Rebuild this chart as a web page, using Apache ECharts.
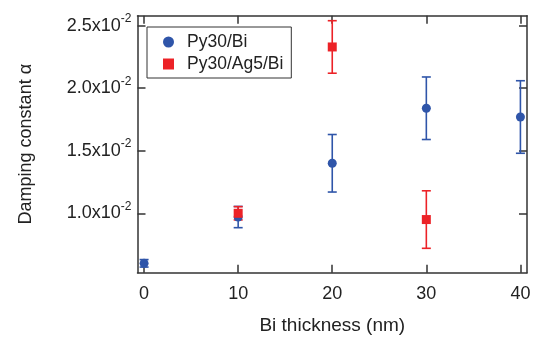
<!DOCTYPE html>
<html><head><meta charset="utf-8">
<script src="https://cdn.jsdelivr.net/npm/echarts@6/dist/echarts.min.js"></script>
<style>html,body{margin:0;padding:0;background:#fff}#c{width:539px;height:338px}</style>
</head><body><div id="c"></div>
<script>
// Data (values in absolute units)
const xTicks = [0, 10, 20, 30, 40];
const yTicks = [0.010, 0.015, 0.020, 0.025];
const bi_x   = [0, 10, 20, 30, 40];
const bi_y   = [0.0060, 0.0097, 0.0140, 0.0184, 0.0177];
const bi_err = [0.0003, 0.00085, 0.0023, 0.0025, 0.0029];
const ag_x   = [10, 20, 30];
const ag_y   = [0.0100, 0.0233, 0.0095];
const ag_err = [0.00053, 0.0021, 0.0023];

const BLUE = '#2f55a9', RED = '#ec2227', AX = '#333333';
const FONT = 'Liberation Sans, Arial, sans-serif';

function errSeries(xs, ys, es, color) {
  return {
    type: 'custom', xAxisIndex: 0, yAxisIndex: 0, silent: true, z: 2,
    data: xs.map((x, i) => [x, ys[i], es[i]]),
    renderItem: function (params, api) {
      const x = api.value(0), y = api.value(1), e = api.value(2);
      const t = api.coord([x, y + e]), b = api.coord([x, y - e]);
      const hw = 4.5, st = { stroke: color, lineWidth: 1.6 };
      return { type: 'group', children: [
        { type: 'line', shape: { x1: t[0], y1: t[1], x2: b[0], y2: b[1] }, style: st },
        { type: 'line', shape: { x1: t[0] - hw, y1: t[1], x2: t[0] + hw, y2: t[1] }, style: st },
        { type: 'line', shape: { x1: b[0] - hw, y1: b[1], x2: b[0] + hw, y2: b[1] }, style: st }
      ]};
    }
  };
}

const common = {
  axisLine: { show: true, onZero: false, lineStyle: { color: AX, width: 1.5 } },
  axisTick: { show: true, inside: true, length: 8, lineStyle: { color: AX, width: 1.5 } },
  splitLine: { show: false }
};

const chart = echarts.init(document.getElementById('c'));
chart.setOption({
  animation: false,
  backgroundColor: '#fff',
  grid: { left: 137.5, right: 12, top: 15.7, bottom: 65.3, containLabel: false, outerBoundsMode: 'none' },
  legend: {
    orient: 'vertical', left: 147, top: 27,
    borderColor: AX, borderWidth: 1, padding: [6, 8, 5, 16],
    itemWidth: 11, itemHeight: 11, itemGap: 4,
    textStyle: { fontFamily: FONT, fontSize: 17.5, color: '#222', padding: [0, 0, 0, 8] },
    data: [{ name: 'Py30/Bi', icon: 'circle' }, { name: 'Py30/Ag5/Bi', icon: 'rect' }]
  },
  xAxis: [
    Object.assign({}, common, {
      type: 'value', position: 'bottom', min: -0.7, max: 40.7,
      axisTick: Object.assign({}, common.axisTick, { customValues: xTicks }),
      axisLabel: { customValues: xTicks, margin: 12, fontFamily: FONT, fontSize: 18, color: '#222' },
      name: 'Bi thickness (nm)', nameLocation: 'middle', nameGap: 44,
      nameTextStyle: { fontFamily: FONT, fontSize: 19, color: '#222' }
    }),
    Object.assign({}, common, {
      type: 'value', position: 'top', min: -0.7, max: 40.7,
      axisTick: Object.assign({}, common.axisTick, { customValues: xTicks }),
      axisLabel: { show: false }
    })
  ],
  yAxis: [
    Object.assign({}, common, {
      type: 'value', position: 'left', min: 0.00525, max: 0.0258,
      axisTick: Object.assign({}, common.axisTick, { customValues: yTicks }),
      axisLabel: {
        customValues: yTicks, margin: 6, fontFamily: FONT, color: '#222',
        formatter: v => '{b|' + (v * 100).toFixed(1) + 'x10}{s|-2}',
        rich: {
          b: { fontFamily: FONT, fontSize: 18, color: '#222', lineHeight: 26 },
          s: { fontFamily: FONT, fontSize: 12, color: '#222', lineHeight: 13, verticalAlign: 'top' }
        }
      },
      name: 'Damping constant α', nameLocation: 'middle', nameGap: 102,
      nameTextStyle: { fontFamily: FONT, fontSize: 18, color: '#222' }
    }),
    Object.assign({}, common, {
      type: 'value', position: 'right', min: 0.00525, max: 0.0258,
      axisTick: Object.assign({}, common.axisTick, { customValues: yTicks }),
      axisLabel: { show: false }
    })
  ],
  series: [
    errSeries(bi_x, bi_y, bi_err, BLUE),
    { name: 'Py30/Bi', type: 'scatter', symbol: 'circle', symbolSize: 9, z: 3,
      itemStyle: { color: BLUE, opacity: 1 }, data: bi_x.map((x, i) => [x, bi_y[i]]) },
    errSeries(ag_x, ag_y, ag_err, RED),
    { name: 'Py30/Ag5/Bi', type: 'scatter', symbol: 'rect', symbolSize: 9, z: 5,
      itemStyle: { color: RED, opacity: 1 }, data: ag_x.map((x, i) => [x, ag_y[i]]) }
  ]
});
</script></body></html>
